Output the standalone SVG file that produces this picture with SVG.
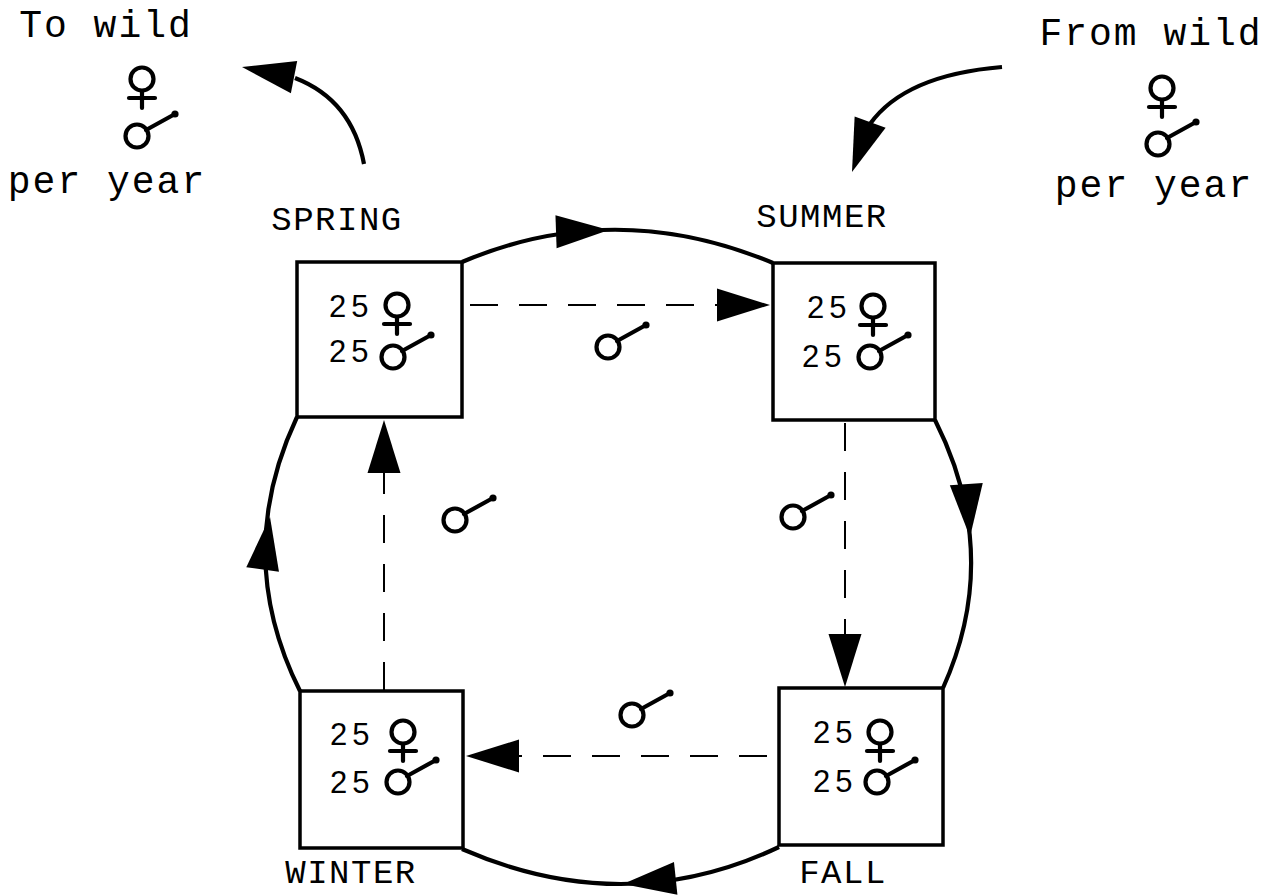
<svg xmlns="http://www.w3.org/2000/svg" xmlns:xlink="http://www.w3.org/1999/xlink" width="1280" height="895" viewBox="0 0 1280 895">
<style>
.box{fill:#fff;stroke:#000;stroke-width:3.5}
.num{font-family:"Liberation Sans",Arial,sans-serif;font-size:31px;letter-spacing:5px;fill:#000}
.lbl{font-family:"Courier New","Liberation Mono",monospace;font-size:34px;letter-spacing:1.5px;fill:#000;text-anchor:middle}
.cap{font-family:"Courier New","Liberation Mono",monospace;font-size:38px;letter-spacing:2px;fill:#000;text-anchor:middle}
.sym{fill:none;stroke:#000;stroke-width:4.2;stroke-linecap:round}
.flow{fill:none;stroke:#000;stroke-width:4.2}
.dash{fill:none;stroke:#000;stroke-width:2;stroke-dasharray:28 21}
</style>
<defs>
<polygon id="ah" points="0,0 -53,-16.5 -53,16.5" fill="#000"/>
<g id="fem" class="sym"><circle cx="0" cy="0" r="11.5"/><line x1="0" y1="12" x2="0" y2="29"/><line x1="-13" y1="19" x2="13" y2="19"/></g>
<g id="mal"><g class="sym"><circle cx="0" cy="0" r="11.5"/><line x1="9" y1="-6" x2="38" y2="-22"/></g><circle cx="38" cy="-22" r="3.6" fill="#000"/></g>
</defs>
<rect width="1280" height="895" fill="#fff"/>

<g id="connectors">
<path class="flow" d="M462,262 Q615,197 773,263"/>
<use xlink:href="#ah" href="#ah" transform="translate(609,230) rotate(-2)"/>
<path class="flow" d="M935,420 Q1003,555 943,688"/>
<use xlink:href="#ah" href="#ah" transform="translate(970,537) rotate(86)"/>
<path class="flow" d="M779,847 Q625,920 462,849"/>
<use xlink:href="#ah" href="#ah" transform="translate(623,884) rotate(174)"/>
<path class="flow" d="M300,691 Q232,555 297,417"/>
<use xlink:href="#ah" href="#ah" transform="translate(270,517) rotate(-82)"/>
<path class="flow" d="M364,164 Q352,100 295,78"/>
<use xlink:href="#ah" href="#ah" transform="translate(242,67) rotate(-169)"/>
<path class="flow" d="M1002,67 Q905,75 870,124"/>
<use xlink:href="#ah" href="#ah" transform="translate(852,172) rotate(110)"/>
<path class="dash" d="M470,305 H717"/>
<use xlink:href="#ah" href="#ah" transform="translate(770,305)"/>
<path class="dash" d="M845,423 V635"/>
<use xlink:href="#ah" href="#ah" transform="translate(845,687) rotate(90)"/>
<path class="dash" d="M767,756 H518"/>
<use xlink:href="#ah" href="#ah" transform="translate(466,756) rotate(180)"/>
<path class="dash" d="M384,690 V472"/>
<use xlink:href="#ah" href="#ah" transform="translate(384,420) rotate(-90)"/>
</g>

<g id="to-wild">
<text class="cap" x="106" y="37">To wild</text>
<use xlink:href="#fem" href="#fem" x="142" y="79"/>
<use xlink:href="#mal" href="#mal" x="137" y="136"/>
<text class="cap" x="107" y="193">per year</text>
</g>

<g id="from-wild">
<text class="cap" x="1151" y="45">From wild</text>
<use xlink:href="#fem" href="#fem" x="1162" y="88"/>
<use xlink:href="#mal" href="#mal" x="1158" y="144"/>
<text class="cap" x="1154" y="197">per year</text>
</g>

<g id="spring">
<rect class="box" x="297" y="262" width="165" height="155"/>
<text class="num" x="329" y="317">25</text>
<text class="num" x="329" y="362">25</text>
<use xlink:href="#fem" href="#fem" x="397" y="305"/>
<use xlink:href="#mal" href="#mal" x="393" y="357"/>
<text class="lbl" x="337" y="230">SPRING</text>
</g>

<g id="summer">
<rect class="box" x="773" y="263" width="162" height="157"/>
<text class="num" x="807" y="318">25</text>
<text class="num" x="802" y="367">25</text>
<use xlink:href="#fem" href="#fem" x="873" y="306"/>
<use xlink:href="#mal" href="#mal" x="870" y="357"/>
<text class="lbl" x="822" y="227">SUMMER</text>
</g>

<g id="fall">
<rect class="box" x="779" y="688" width="164" height="157"/>
<text class="num" x="813" y="743">25</text>
<text class="num" x="813" y="792">25</text>
<use xlink:href="#fem" href="#fem" x="880" y="732"/>
<use xlink:href="#mal" href="#mal" x="877" y="782"/>
<text class="lbl" x="843" y="883">FALL</text>
</g>

<g id="winter">
<rect class="box" x="300" y="691" width="163" height="157"/>
<text class="num" x="330" y="745">25</text>
<text class="num" x="330" y="793">25</text>
<use xlink:href="#fem" href="#fem" x="403" y="732"/>
<use xlink:href="#mal" href="#mal" x="398" y="782"/>
<text class="lbl" x="351" y="883">WINTER</text>
</g>

<g id="migrants">
<use xlink:href="#mal" href="#mal" x="608" y="347"/>
<use xlink:href="#mal" href="#mal" x="455" y="520"/>
<use xlink:href="#mal" href="#mal" x="793" y="517"/>
<use xlink:href="#mal" href="#mal" x="632" y="715"/>
</g>
</svg>
